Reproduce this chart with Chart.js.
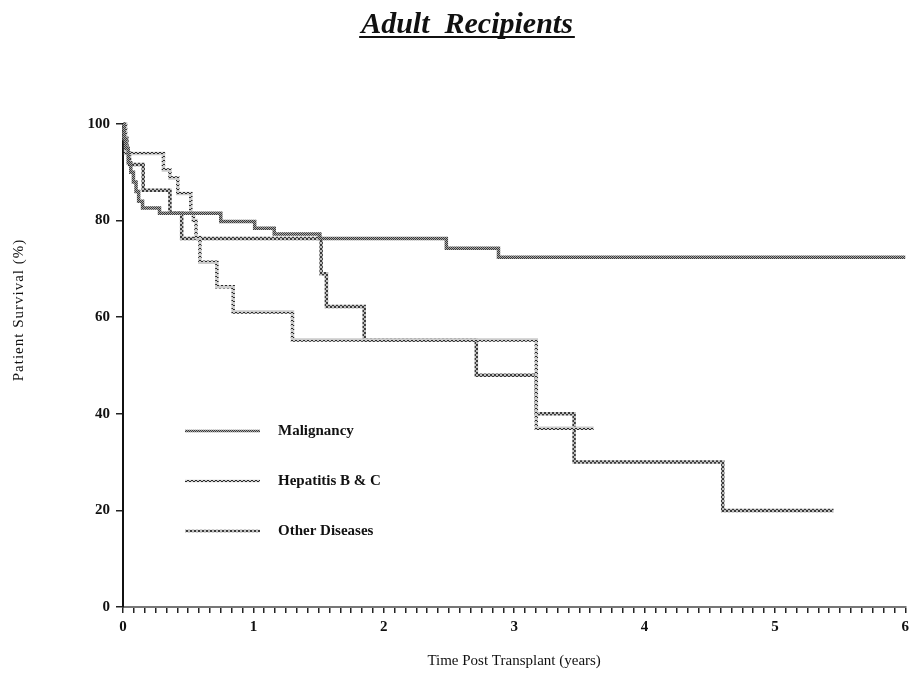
<!DOCTYPE html>
<html>
<head>
<meta charset="utf-8">
<title>Adult Recipients</title>
<script src="https://cdn.jsdelivr.net/npm/chart.js@4/dist/chart.umd.min.js"></script>
<style>
  body { margin: 0; background: #fff; }
  #wrap { width: 914px; height: 673px; }
</style>
</head>
<body>
<div id="wrap"><canvas id="chart" width="914" height="673"></canvas></div>
<script>
const SERIF = "'Liberation Serif', 'DejaVu Serif', serif";

const seriesNames = ["Malignancy", "Hepatitis B & C", "Other Diseases"];

// Kaplan-Meier steps: time of each drop (years) and survival after it (%)
const malignancyYears = [0, 0.01, 0.02, 0.04, 0.06, 0.08, 0.10, 0.12, 0.15, 0.28, 0.75, 1.01, 1.16, 1.51, 2.48, 2.88, 6.0];
const malignancySurvival = [100, 97, 95, 92, 90, 88, 86, 84, 82.6, 81.5, 79.8, 78.4, 77.2, 76.3, 74.3, 72.4, 72.4];

const hepatitisYears = [0, 0.02, 0.31, 0.36, 0.42, 0.52, 0.54, 0.56, 0.59, 0.72, 0.845, 1.30, 3.17, 3.61];
const hepatitisSurvival = [100, 93.9, 90.5, 88.8, 85.6, 81.5, 80, 76.5, 71.4, 66.3, 61.1, 55.3, 37, 37];

const otherYears = [0, 0.01, 0.03, 0.05, 0.155, 0.36, 0.45, 1.52, 1.56, 1.85, 2.71, 3.17, 3.46, 4.60, 5.45];
const otherSurvival = [100, 97, 94, 91.6, 86.3, 81.5, 76.3, 69, 62.2, 55.3, 48, 40, 30, 20, 20];

const yTicks = [0, 20, 40, 60, 80, 100];
const xYears = [0, 1, 2, 3, 4, 5, 6];
const monthsPerYear = 12;

// monthly minor ticks between the labelled years
const xTicks = [];
xYears.forEach((yr, i) => {
  if (i === xYears.length - 1) { xTicks.push(yr); return; }
  for (let m = 0; m < monthsPerYear; m++) xTicks.push(yr + m / monthsPerYear);
});

function toPoints(xs, ys) {
  return xs.map((x, i) => ({ x: x, y: ys[i] }));
}

// small textured tiles so the lines look like the old printer hatching
function makePattern(mask, dark, light) {
  const c = document.createElement("canvas");
  c.width = mask[0].length;
  c.height = mask.length;
  const g = c.getContext("2d");
  g.fillStyle = light;
  g.fillRect(0, 0, c.width, c.height);
  g.fillStyle = dark;
  mask.forEach((row, y) => {
    for (let x = 0; x < row.length; x++) if (row[x] === "x") g.fillRect(x, y, 1, 1);
  });
  return g.createPattern(c, "repeat");
}

const ctx = document.getElementById("chart").getContext("2d");

const styles = [
  makePattern(["x.x.", ".x.x", "x.x.", ".x.x"], "#3a3a3a", "#a8a8a8"),
  makePattern(["x..x", ".xx.", "....", "...."], "#2a2a2a", "#cccccc"),
  makePattern(["xx..", "xx..", "..xx", "..xx"], "#3a3a3a", "#bdbdbd")
];

const datasets = [
  toPoints(malignancyYears, malignancySurvival),
  toPoints(hepatitisYears, hepatitisSurvival),
  toPoints(otherYears, otherSurvival)
].map((pts, i) => ({
  label: seriesNames[i],
  data: pts,
  stepped: "before",
  borderColor: styles[i],
  borderWidth: 3.5,
  pointRadius: 0,
  fill: false,
  clip: false
}));

const decor = {
  id: "decor",
  afterDraw(chart) {
    const c = chart.ctx;
    const area = chart.chartArea;
    c.save();
    c.fillStyle = "#111";

    // title, underlined
    c.font = "italic bold 30px " + SERIF;
    c.textAlign = "center";
    c.textBaseline = "alphabetic";
    const title = "Adult  Recipients";
    c.fillText(title, 467, 33);
    const w = c.measureText(title).width;
    c.fillRect(467 - w / 2 - 2, 36, w + 4, 2);

    // axis titles
    c.font = "15px " + SERIF;
    c.textBaseline = "middle";
    c.fillText("Time Post Transplant (years)", (area.left + area.right) / 2, 661);
    c.save();
    c.translate(19, 310);
    c.rotate(-Math.PI / 2);
    c.letterSpacing = "1px";
    c.fillText("Patient Survival (%)", 0, 0);
    c.restore();

    // legend inside the plot
    c.textAlign = "left";
    c.font = "bold 15px " + SERIF;
    chart.data.datasets.forEach((ds, i) => {
      const y = 431 + i * 50;
      c.strokeStyle = ds.borderColor;
      c.lineWidth = 2.5;
      c.beginPath();
      c.moveTo(185, y);
      c.lineTo(260, y);
      c.stroke();
      c.fillStyle = "#111";
      c.fillText(ds.label, 278, y);
    });
    c.restore();
  }
};

new Chart(ctx, {
  type: "line",
  data: { datasets: datasets },
  options: {
    responsive: false,
    animation: false,
    layout: { padding: { top: 124, right: 7, left: 0, bottom: 0 } },
    plugins: {
      legend: { display: false },
      tooltip: { enabled: false },
      title: { display: false }
    },
    scales: {
      x: {
        type: "linear",
        min: 0,
        max: 6,
        afterBuildTicks: (scale) => { scale.ticks = xTicks.map((v) => ({ value: v })); },
        afterFit: (scale) => { scale.height = 66; },
        ticks: {
          autoSkip: false,
          maxRotation: 0,
          padding: 5,
          color: "#111",
          font: { family: SERIF, size: 15, weight: "bold" },
          callback: (v, i) => (i % monthsPerYear === 0 ? String(i / monthsPerYear) : "")
        },
        grid: { drawOnChartArea: false, tickLength: 6, color: "#222", lineWidth: 1.5 },
        border: { color: "#777", width: 2 }
      },
      y: {
        min: 0,
        max: 100,
        afterBuildTicks: (scale) => { scale.ticks = yTicks.map((v) => ({ value: v })); },
        afterFit: (scale) => { scale.width = 123; },
        ticks: {
          padding: 6,
          color: "#111",
          font: { family: SERIF, size: 15, weight: "bold" }
        },
        grid: { drawOnChartArea: false, tickLength: 7, color: "#222", lineWidth: 1.5 },
        border: { color: "#111", width: 2 }
      }
    }
  },
  plugins: [decor]
});
</script>
</body>
</html>
